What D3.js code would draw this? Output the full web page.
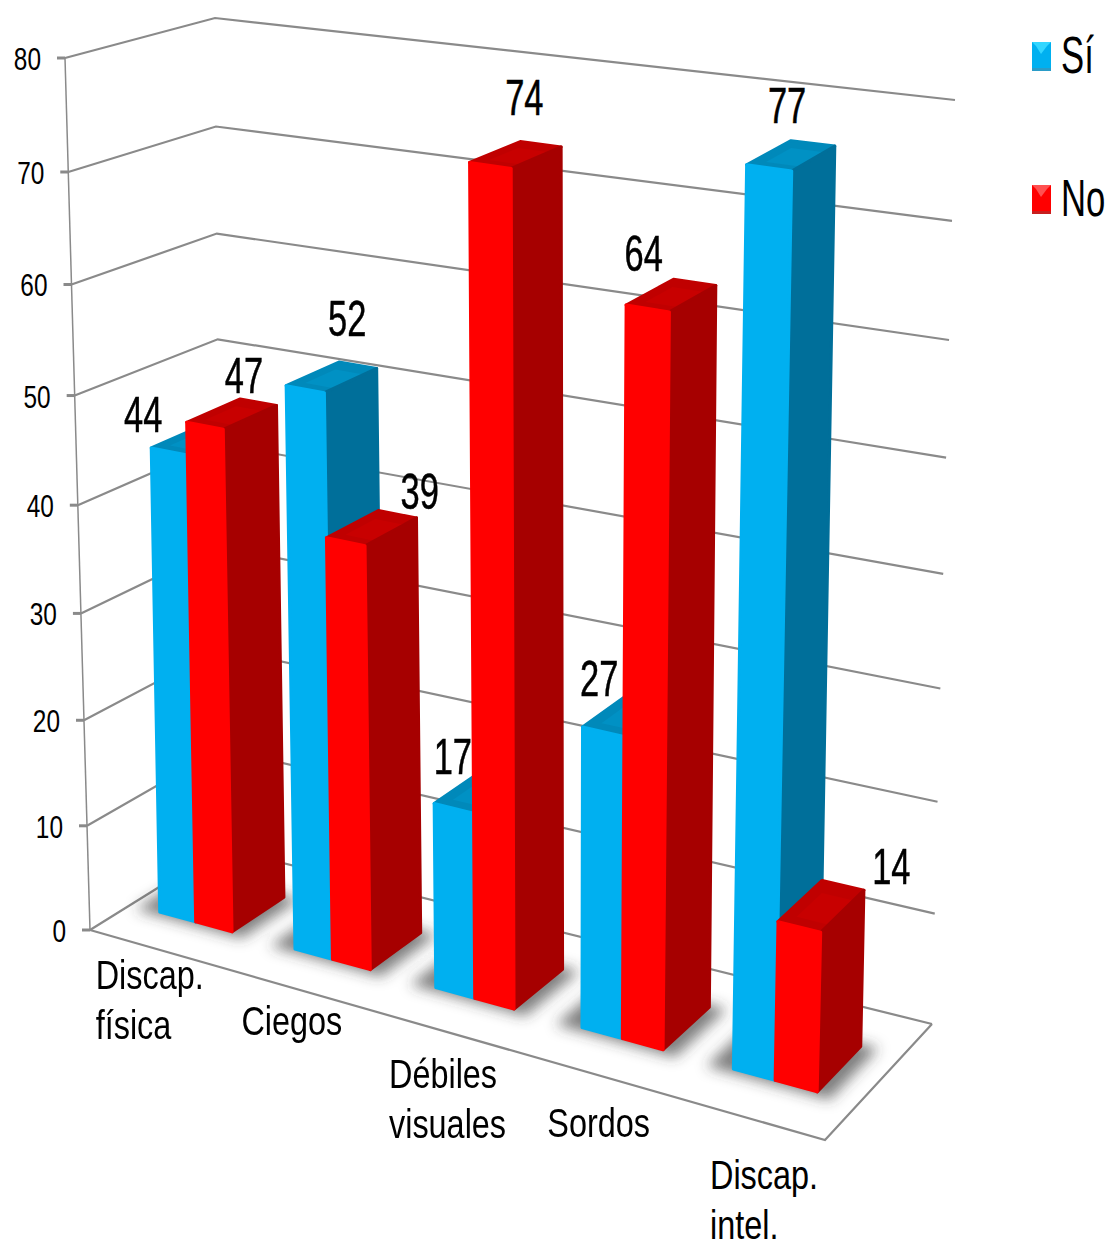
<!DOCTYPE html>
<html>
<head>
<meta charset="utf-8">
<script src="https://cdn.jsdelivr.net/npm/d3@7"></script>
<style>
    html, body { margin: 0; padding: 0; background: #fff; }
    text { font-family: "Liberation Sans", Arial, sans-serif; fill: #000; }
</style>
</head>
<body>
<div class="chart"></div>
<script>
let categories = [["Discap.", "física"], ["Ciegos"], ["Débiles", "visuales"], ["Sordos"], ["Discap.", "intel."]]
let seriesNames = ["Sí", "No"]
let siValues = [44, 52, 17, 27, 77]
let noValues = [47, 39, 74, 64, 14]
let yTicks = [0, 10, 20, 30, 40, 50, 60, 70, 80]

// hand placed offsets of the value labels, from the top of each bar
let siLabelOffset = [[-26, -19], [42, -53], [-1, -34], [-4, -36], [18, -45]]
let noLabelOffset = [[39, -33], [74, -33], [34, -50], [-4, -37], [92, -43]]
// offsets of the category labels, from the front edge of the floor
let categoryLabelOffset = [[-59, 41], [-51, 47], [-47, 59], [-38, 65], [-30, 73]]

let width = 1110, height = 1248
let colors = {
    "Sí": { front: "#00b0f0", side: "#006f9a", top: "#0089ba", topLight: "#0091c4" },
    "No": { front: "#ff0000", side: "#a60000", top: "#c00000", topLight: "#c80000" }
}

// maps the unit square onto a quadrilateral (projective)
function quadMap(p0, p1, p2, p3) {
    let dx1 = p1[0] - p2[0], dx2 = p3[0] - p2[0], sx = p0[0] - p1[0] + p2[0] - p3[0]
    let dy1 = p1[1] - p2[1], dy2 = p3[1] - p2[1], sy = p0[1] - p1[1] + p2[1] - p3[1]
    let den = dx1 * dy2 - dx2 * dy1
    let g = (sx * dy2 - dx2 * sy) / den, h = (dx1 * sy - sx * dy1) / den
    let a = p1[0] - p0[0] + g * p1[0], b = p3[0] - p0[0] + h * p3[0]
    let d = p1[1] - p0[1] + g * p1[1], e = p3[1] - p0[1] + h * p3[1]
    return (u, v) => {
        let w = g * u + h * v + 1
        return [(a * u + b * v + p0[0]) / w, (d * u + e * v + p0[1]) / w]
    }
}

let floorMap = quadMap([90, 930], [825, 1140], [932, 1024], [222, 848])
let ceilMap = quadMap([65, 58], [845, 170], [955, 100], [215, 18])

let xBand = d3.scaleBand().domain(d3.range(categories.length)).range([0, 0.99]).paddingInner(0.46).paddingOuter(0.215)
let seriesBand = d3.scaleBand().domain(seriesNames).range([0, xBand.bandwidth()])
let yScale = d3.scaleLinear().domain([0, 80]).range([0, 1])
let depthStart = 0.3, depthEnd = 0.7

// ease the foreshortening along the category and depth directions
let warp = (u, c) => u + c * u * (1 - u)
let depthWarp = (d) => d - 0.4 * (d - 0.5) * d * (1 - d)

// u along the categories, d into the depth, val on the value axis
function project(u, d, val) {
    let s = yScale(val), k = 0.95
    let t = s * k / ((1 - s) + s * k)
    let a = floorMap(warp(u, 0.12), d), b = ceilMap(warp(u, 0.22), depthWarp(d))
    return [a[0] + (b[0] - a[0]) * t, a[1] + (b[1] - a[1]) * t]
}
let pts = (list) => list.map((p) => p.join(",")).join(" ")

let svg = d3.select(".chart").append("svg").attr("width", width).attr("height", height)
    .style("display", "block")
let defs = svg.append("defs")
defs.append("filter").attr("id", "shadow-blur")
    .attr("filterUnits", "userSpaceOnUse").attr("x", 0).attr("y", 0).attr("width", width).attr("height", height)
    .append("feGaussianBlur").attr("stdDeviation", 7)

// walls and floor
let gridColor = "#8a8a8a"
let grid = svg.append("g").attr("fill", "none").attr("stroke", gridColor).attr("stroke-width", 2.2)
yTicks.forEach((t) => {
    let p0 = project(0, 0, t), p1 = project(0, 1, t), p2 = project(1, 1, t)
    grid.append("polyline").attr("points", pts([p0, p1, p2]))
    grid.append("line").attr("x1", p0[0] - 8).attr("x2", p0[0]).attr("y1", p0[1]).attr("y2", p0[1])
        .attr("stroke-width", 3)
    svg.append("text")
        .attr("transform", `translate(${p0[0] - 24},${p0[1] + 12}) scale(0.8,1)`)
        .attr("text-anchor", "end")
        .attr("font-size", 30.5)
        .text(t)
})
grid.append("polyline").attr("points", pts([project(0, 0, 0), project(1, 0, 0), project(1, 1, 0)]))
grid.append("line")
    .attr("x1", project(0, 0, 0)[0]).attr("y1", project(0, 0, 0)[1])
    .attr("x2", project(0, 0, 80)[0]).attr("y2", project(0, 0, 80)[1])
    .attr("stroke-width", 1.5)

// floor shadows under each pair of bars
let shadows = svg.append("g").attr("filter", "url(#shadow-blur)")
categories.forEach((c, i) => {
    let u0 = xBand(i) - 0.03, u1 = xBand(i) + xBand.bandwidth() + 0.02
    shadows.append("polygon")
        .attr("points", pts([project(u0, depthStart - 0.03, 0), project(u1, depthStart - 0.03, 0),
            project(u1, depthEnd + 0.02, 0), project(u0, depthEnd + 0.02, 0)]))
        .attr("fill", "#3c3c3c")
        .attr("opacity", 0.65)
})

function drawBar(g, i, name, val) {
    let u0 = xBand(i) + seriesBand(name), u1 = u0 + seriesBand.bandwidth()
    let col = colors[name]
    let bar = g.append("g").attr("stroke-linejoin", "round").attr("stroke-width", 3)
    let topFace = [project(u0, depthStart, val), project(u1, depthStart, val), project(u1, depthEnd, val), project(u0, depthEnd, val)]
    bar.append("polygon").attr("points", pts(topFace)).attr("fill", col.top).attr("stroke", col.top)
    let pad = (u1 - u0) * 0.25
    bar.append("polygon")
        .attr("points", pts([project(u0 + pad, depthStart + 0.07, val), project(u1, depthStart + 0.07, val),
            project(u1, depthEnd - 0.1, val), project(u0 + pad, depthEnd - 0.1, val)]))
        .attr("fill", col.topLight)
    bar.append("polygon")
        .attr("points", pts([project(u1, depthStart, 0), project(u1, depthEnd, 0), project(u1, depthEnd, val), project(u1, depthStart, val)]))
        .attr("fill", col.side).attr("stroke", col.side)
    bar.append("polygon")
        .attr("points", pts([project(u0, depthStart, 0), project(u1, depthStart, 0), project(u1, depthStart, val), project(u0, depthStart, val)]))
        .attr("fill", col.front).attr("stroke", col.front)
}

let bars = svg.append("g")
categories.forEach((c, i) => {
    drawBar(bars, i, "Sí", siValues[i])
    drawBar(bars, i, "No", noValues[i])
})

// value labels go on top of every bar
function drawValueLabel(i, name, val, offset) {
    let u = xBand(i) + seriesBand(name) + seriesBand.bandwidth() / 2
    let p = project(u, depthStart, val)
    svg.append("text")
        .attr("transform", `translate(${p[0] + offset[0]},${p[1] + offset[1]}) scale(0.69,1)`)
        .attr("text-anchor", "middle")
        .attr("font-size", 50)
        .attr("stroke", "#000")
        .attr("stroke-width", 0.5)
        .text(val)
}
categories.forEach((c, i) => {
    drawValueLabel(i, "Sí", siValues[i], siLabelOffset[i])
    drawValueLabel(i, "No", noValues[i], noLabelOffset[i])
})

// category labels under the front edge
categories.forEach((lines, i) => {
    let p = project(xBand(i) + xBand.bandwidth() / 2, 0, 0)
    lines.forEach((line, j) => {
        svg.append("text")
            .attr("transform", `translate(${p[0] + categoryLabelOffset[i][0]},${p[1] + categoryLabelOffset[i][1] + j * 50}) scale(0.81,1)`)
            .attr("font-size", 40)
            .text(line)
    })
})

// legend
let legendY = [42, 185]
seriesNames.forEach((name, i) => {
    let y = legendY[i], col = colors[name]
    let item = svg.append("g")
    item.append("rect").attr("x", 1032).attr("y", y).attr("width", 19).attr("height", 29).attr("fill", col.front)
    item.append("polygon")
        .attr("points", pts([[1032, y], [1051, y], [1047, y + 4], [1041, y + 12], [1036, y + 4]]))
        .attr("fill", name == "Sí" ? "#33d6ff" : "#ff5050")
    item.append("rect").attr("x", 1032).attr("y", y + 26).attr("width", 19).attr("height", 3)
        .attr("fill", name == "Sí" ? "#2a9cc8" : "#c81e1e")
    item.append("text")
        .attr("transform", `translate(1061,${y + 31}) scale(0.68,1)`)
        .attr("font-size", 51)
        .text(name)
})
</script>
</body>
</html>
